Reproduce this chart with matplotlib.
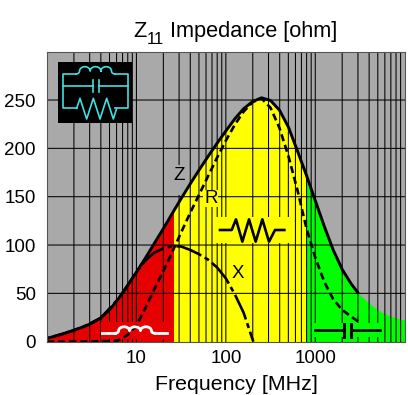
import numpy as np
import matplotlib
matplotlib.use("Agg")
import matplotlib.pyplot as plt
from matplotlib.patches import Rectangle, Polygon
from matplotlib.lines import Line2D
from matplotlib.transforms import Affine2D

plt.rcParams['font.family'] = ['Liberation Sans', 'DejaVu Sans']

# --- data ---
z_freq = [1, 1.26, 1.58, 2, 2.51, 3.16, 3.98, 5.01, 6.31, 7.94, 10, 12.6, 15.8, 20, 25.1, 31.6, 39.8, 50.1, 63.1,
          79.4, 100, 126, 158, 200, 251, 316, 398, 501, 631, 794, 1000, 1259, 1585, 1995, 2512, 3040]
z_vals = [3.5, 6, 8.7, 11.8, 15.2, 19, 24.5, 33, 44.5, 58, 72, 86.5, 101.5, 117, 132.5, 148, 163, 177.5, 191.5,
          205, 218, 230.5, 241, 248.5, 252.3, 249.5, 239.5, 222, 197.5, 172.5, 146, 119.5, 95, 75, 60, 50]
fill_ext_freq = [3830, 4500, 5400, 7000, 10000]
fill_ext_vals = [41.4, 36, 31, 26, 22.4]
r_freq = [1, 3.16, 5.01, 6.31, 7.94, 10, 12.6, 15.8, 20, 25.1, 31.6, 39.8, 50.1, 63.1, 79.4, 100, 126, 158, 200, 251,
          316, 398, 501, 631, 794, 1000, 1259, 1585, 1995, 2512, 3040]
r_vals = [0, 0.3, 0.7, 1.5, 7, 16.5, 35, 54, 73, 92.5, 113, 133, 152, 171, 190, 208, 224.5, 238, 248, 251.7,
          242, 221, 192, 157, 118, 87, 62, 44, 33, 26, 20.7]
x_freq = [1, 1.58, 2.51, 3.98, 6.31, 7.94, 10, 12.6, 15.8, 20, 25.1, 31.6, 39.8, 50.1, 63.1, 79.4, 100, 126, 158, 203]
x_vals = [3.5, 8.7, 15.2, 24.5, 44.5, 58, 72, 84, 92, 96.5, 99, 98.5, 95, 90.5, 85, 77, 65.5, 49, 30, 0]
band_edges = [1, 26.5, 789, 10000]
band_colors = ['#E60000', '#FFFF00', '#00FF00']
y_ticks = [0, 50, 100, 150, 200, 250]
x_ticks = [10, 100, 1000]
x_minor = [m * 10 ** e for e in range(0, 4) for m in range(1, 10)]

W, H = 408, 395
GRAY = '#A9A9A9'
fig = plt.figure(figsize=(W / 100, H / 100), dpi=100)
L, R_, T, B = 47, 404.7, 51.7, 341.7
ax = fig.add_axes([L / W, 1 - B / H, (R_ - L) / W, (B - T) / H], facecolor=GRAY)
ax.set_xscale('log')
ax.set_xlim(1, 10000)
ax.set_ylim(0, 300)

# filled bands under the curve
f_all = z_freq + fill_ext_freq
v_all = z_vals + fill_ext_vals
for i, c in enumerate(band_colors):
    poly = ax.fill_between(f_all, v_all, 0, color=c, lw=0, zorder=1)
    poly.set_clip_path(Rectangle((band_edges[i], 0), band_edges[i + 1] - band_edges[i], 300,
                                 transform=ax.transData))

# grid
for f in x_minor:
    if 1 < f < 10000:
        ax.plot([f, f], [0, 300], color='#000000', lw=0.75, zorder=2, snap=False)
for v in y_ticks[1:]:
    ax.plot([1, 10000], [v, v], color='#000000', lw=0.75, zorder=2, snap=False)

# pixel coordinates helper for the decorations
px = Affine2D().scale(1, -1).translate(0, H)

def box(x0, y0, x1, y1, c, z=3):
    ax.add_patch(Rectangle((x0, y0), x1 - x0, y1 - y0, transform=px, color=c, lw=0, zorder=z))

def wire(xs, ys, c, lw, z=6):
    ax.add_line(Line2D(xs, ys, transform=px, color=c, lw=lw, zorder=z, solid_joinstyle='round',
                       clip_on=False))

def coil(x0, x1, y, h, n, c, lw, z=6):
    # n arcs that meet above the wire, with short flares down to it at both ends
    m = 0.09 * (x1 - x0)
    valley = y - 0.4 * h
    w = (x1 - x0 - 2 * m) / n
    xs, ys = [x0], [y]
    t0 = np.linspace(0, np.pi / 2, 8)[1:]
    xs += list(x0 + m * np.sin(t0)); ys += list(y - 0.4 * h * (1 - np.cos(t0)))
    for k in range(n):
        t = np.linspace(np.pi, 0, 24)
        xs += list(x0 + m + k * w + w / 2 + w / 2 * np.cos(t))
        ys += list(valley - 0.6 * h * np.sin(t))
    t1 = np.linspace(np.pi / 2, 0, 8)[1:]
    xs += list(x1 - m * np.sin(t1)); ys += list(y - 0.4 * h * (1 - np.cos(t1)))
    wire(xs, ys, c, lw, z)

# background boxes of the symbols and labels
box(101, 322, 168, 339, band_colors[0])
box(215, 217, 290, 243, band_colors[1])
box(313, 323, 382, 337, band_colors[2])
box(203, 190, 218, 207, band_colors[1])
box(231, 265, 244, 282, band_colors[1])
ax.add_patch(Polygon([(172, 165), (186, 165), (186, 187), (181, 195), (172, 195)], closed=True,
                     transform=px, color=GRAY, lw=0, zorder=3))

# curves
ax.plot(x_freq, x_vals, color='k', lw=1.9, linestyle=(12.7, (10.2, 1.5, 1.9, 1.5)), zorder=4, dash_capstyle='butt')
ax.plot(r_freq, r_vals, color='k', lw=1.9, dashes=(2.7, 1.5), zorder=4, dash_capstyle='butt')
ax.plot(z_freq, z_vals, color='k', lw=2.1, zorder=5, solid_joinstyle='round', solid_capstyle='butt')

# inductor (white)
wire([102, 115], [333.3, 333.3], 'white', 2)
coil(115, 155, 333.3, 6.5, 3, 'white', 2)
wire([155, 166.7], [333.3, 333.3], 'white', 2)

# resistor
rx = np.array([180, 215, 228, 247, 267, 287, 307, 327, 345, 373]) / 3 + 160
ry = np.array([210, 210, 178, 245, 178, 245, 178, 245, 210, 210]) / 3 + 160
wire(rx, ry, 'k', 1.9)

# capacitor
wire([315, 344], [330, 330], 'k', 1.9)
wire([350.7, 379.7], [330, 330], 'k', 1.9)
wire([344, 344], [324, 337], 'k', 2.2)
wire([350.7, 350.7], [324, 337], 'k', 2.2)

# circuit icon
box(57.7, 62.3, 132.3, 122.7, 'k', z=7)
cy = '#40E0E0'
X = lambda a: np.array(a) / 3 + 50
Y = lambda a: np.array(a) / 3 + 55
wire(X([78, 40, 40, 80]), Y([57, 57, 160, 160]), cy, 1.2, 8)
wire(X([195, 235, 235, 195]), Y([57, 57, 160, 160]), cy, 1.2, 8)
coil(X(78), X(195), Y(57), 7.3, 3, cy, 1.2, 8)
wire(X([40, 128]), Y([93, 93]), cy, 1.2, 8)
wire(X([148, 235]), Y([93, 93]), cy, 1.2, 8)
wire(X([128, 128]), Y([75, 112]), cy, 1.2, 8)
wire(X([148, 148]), Y([75, 112]), cy, 1.2, 8)
wire(X([80, 90, 110, 130, 150, 170, 190, 200]), Y([160, 130, 192, 130, 192, 130, 192, 160]), cy, 1.2, 8)

# labels inside the plot
for s, xp, yp in [('Z', 179, 176), ('R', 211, 198.5), ('X', 237.7, 273.5)]:
    ax.text(xp, yp, s, transform=px, fontsize=13.5, ha='center', va='center', zorder=6)

# axes furniture
for s in ax.spines.values():
    s.set_color('#555555')
    s.set_linewidth(0.8)
    s.set_zorder(9)
ax.set_xticks(x_ticks)
ax.set_xticklabels([str(t) for t in x_ticks])
ax.set_yticks(y_ticks)
ax.set_xticks([], minor=True)
ax.tick_params(axis='both', which='both', length=0, labelsize=13.5, pad=6)
ax.tick_params(axis='y', pad=8)

def label(x, y, s, size, ha='left'):
    fig.text(x / W, 1 - y / H, s, fontsize=size, ha=ha, va='baseline')
label(133.5, 37, 'Z', 15.7)
label(146.5, 44, '11', 12)
label(170, 37, 'Impedance [ohm]', 15.7)
label(236.5, 390, 'Frequency [MHz]', 15.4, ha='center')

fig.savefig('out.png', dpi=100)
